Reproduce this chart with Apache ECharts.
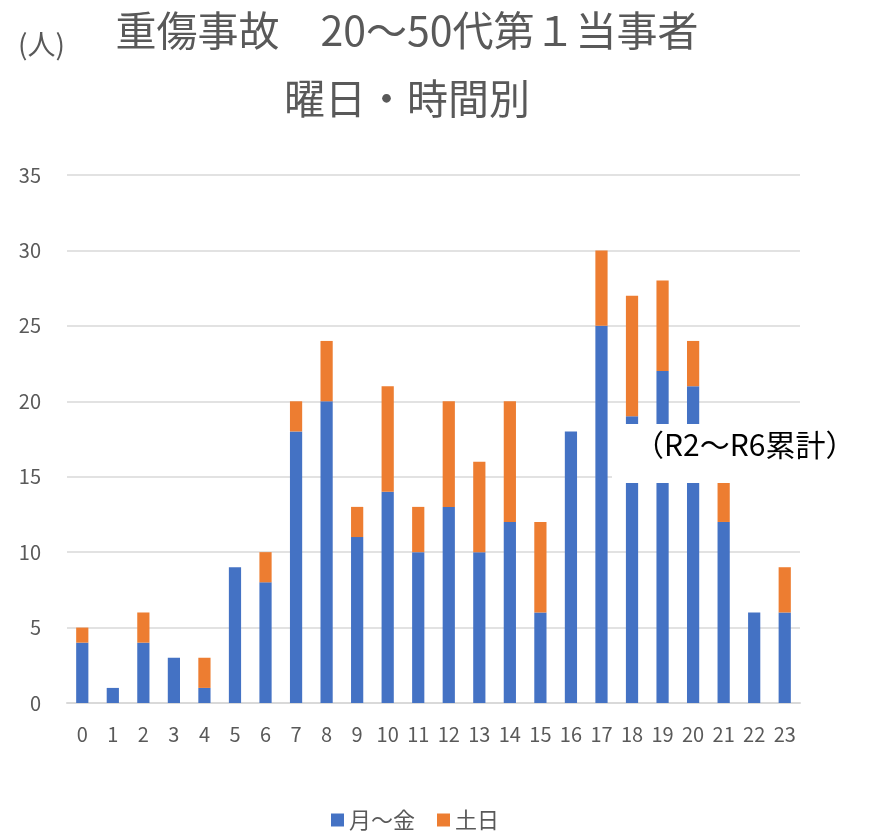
<!DOCTYPE html>
<html>
<head>
<meta charset="utf-8">
<script src="https://cdn.jsdelivr.net/npm/echarts@6/dist/echarts.min.js"></script>
<style>
html, body { margin: 0; padding: 0; background: #fff; }
#chart { width: 871px; height: 836px; }
</style>
</head>
<body>
<div id="chart"></div>
<script>
// 時間帯 0〜23時
const hours = ['0','1','2','3','4','5','6','7','8','9','10','11','12','13','14','15','16','17','18','19','20','21','22','23']
// 月〜金
const weekday = [4, 1, 4, 3, 1, 9, 8, 18, 20, 11, 14, 10, 13, 10, 12, 6, 18, 25, 19, 22, 21, 12, 6, 6]
// 土日
const weekend = [1, 0, 2, 0, 2, 0, 2, 2, 4, 2, 7, 3, 7, 6, 8, 6, 0, 5, 8, 6, 3, 3, 0, 3]
const yTicks = [0, 35, 5]

const font = '"Noto Sans CJK JP", "Noto Sans", sans-serif'
const gray = '#595959'

const chart = echarts.init(document.getElementById('chart'))
const option = {
    animation: false,
    textStyle: { fontFamily: font },
    grid: { left: 67, right: 71, top: 175, bottom: 133, containLabel: false },
    xAxis: {
        type: 'category',
        data: hours,
        axisLine: { lineStyle: { color: '#d9d9d9', width: 2 } },
        axisTick: { show: false },
        axisLabel: { color: gray, fontSize: 20, margin: 21, interval: 0, fontFamily: font }
    },
    yAxis: {
        type: 'value',
        min: yTicks[0],
        max: yTicks[1],
        interval: yTicks[2],
        axisLine: { show: false },
        axisTick: { show: false },
        axisLabel: { color: gray, fontSize: 20, margin: 26, fontFamily: font },
        splitLine: { lineStyle: { color: '#d9d9d9', width: 1.5 } }
    },
    legend: {
        bottom: 0,
        left: 326,
        itemWidth: 13,
        itemHeight: 13,
        itemGap: 22,
        icon: 'rect',
        textStyle: { color: gray, fontSize: 22, fontFamily: font },
        data: ['月〜金', '土日']
    },
    series: [
        {
            name: '月〜金',
            type: 'bar',
            stack: 'total',
            barWidth: '40%',
            itemStyle: { color: '#4472c4' },
            data: weekday
        },
        {
            name: '土日',
            type: 'bar',
            stack: 'total',
            barWidth: '40%',
            itemStyle: { color: '#ed7d31' },
            data: weekend
        }
    ],
    graphic: [
        {
            type: 'text',
            x: 407,
            y: 10,
            style: { text: '重傷事故　20〜50代第１当事者', fill: gray, font: '41px ' + font, textAlign: 'center' }
        },
        {
            type: 'text',
            x: 407,
            y: 78,
            style: { text: '曜日・時間別', fill: gray, font: '41px ' + font, textAlign: 'center' }
        },
        {
            type: 'text',
            left: 18,
            top: 30,
            style: { text: '(人)', fill: gray, font: '28px ' + font }
        },
        {
            type: 'rect',
            shape: { x: 612, y: 424, width: 250, height: 59 },
            style: { fill: '#fff' },
            z: 100
        },
        {
            type: 'text',
            left: 634,
            top: 430,
            z: 101,
            style: { text: '（R2〜R6累計）', fill: '#000', font: '30px ' + font }
        }
    ]
}
chart.setOption(option)
</script>
</body>
</html>
